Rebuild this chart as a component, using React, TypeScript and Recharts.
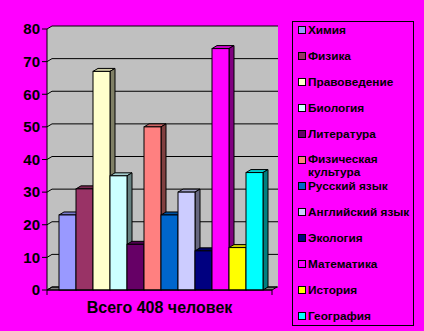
import { BarChart, Bar, XAxis, YAxis, CartesianGrid, Legend } from "recharts";

const subjects = [
  "Химия",
  "Физика",
  "Правоведение",
  "Биология",
  "Литература",
  "Физическая культура",
  "Русский язык",
  "Английский язык",
  "Экология",
  "Математика",
  "История",
  "География",
];
const counts = [23, 31, 67, 35, 14, 50, 23, 30, 12, 74, 13, 36];
const colors = [
  "#9999FF", "#993366", "#FFFFCC", "#CCFFFF", "#660066", "#FF8080",
  "#0066CC", "#CCCCFF", "#000080", "#FF00FF", "#FFFF00", "#00FFFF",
];
const yTicks = [0, 10, 20, 30, 40, 50, 60, 70, 80];
const category = "Всего 408 человек";

const data = [
  Object.fromEntries([["name", category], ...subjects.map((_, i) => [`s${i}`, counts[i]])]),
];

// plot box (front plane) and 3d depth
const PLOT_TOP = 29;
const PLOT_H = 261;
const BAND = 225;
const DX = 5;
const DY = 3;
const FONT = "'Liberation Sans', Arial, sans-serif";

function shade(hex: string, k: number) {
  const n = parseInt(hex.slice(1), 16);
  const r = Math.round(((n >> 16) & 255) * k);
  const g = Math.round(((n >> 8) & 255) * k);
  const b = Math.round((n & 255) * k);
  return `rgb(${r},${g},${b})`;
}

const Bar3D = (p: any) => {
  const { x, y, width: w, height: h, fill } = p;
  if (!h) return null;
  return (
    <g stroke="#000" strokeWidth={1}>
      <polygon
        points={`${x},${y} ${x + DX},${y - DY} ${x + w + DX},${y - DY} ${x + w},${y}`}
        fill={shade(fill, 0.8)}
      />
      <polygon
        points={`${x + w},${y} ${x + w + DX},${y - DY} ${x + w + DX},${y + h - DY} ${x + w},${y + h}`}
        fill={shade(fill, 0.5)}
      />
      <rect x={x} y={y} width={w} height={h} fill={fill} />
    </g>
  );
};

const GridLine = (p: any) => {
  const { x1, x2, y1 } = p;
  const isFloor = Math.abs(y1 - (PLOT_TOP + PLOT_H)) < 1;
  return (
    <g key={p.key}>
      {isFloor && (
        <>
          <polygon
            points={`${x1},${y1 - PLOT_H} ${x1 + DX},${y1 - PLOT_H - DY} ${x2 + DX + 1},${y1 - PLOT_H - DY} ${x2 + DX + 1},${y1 - DY} ${x2},${y1} ${x1},${y1}`}
            fill="#C0C0C0"
          />
          <polygon
            points={`${x1},${y1} ${x1 + DX},${y1 - DY} ${x2 + DX},${y1 - DY} ${x2},${y1}`}
            fill="#808080"
            stroke="#000"
          />
        </>
      )}
      <line x1={x1} y1={y1} x2={x1 + DX} y2={y1 - DY} stroke="#000" />
      <line x1={x1 + DX} y1={y1 - DY} x2={x2 + DX + 1} y2={y1 - DY} stroke="#000" />
    </g>
  );
};

const XTick = (p: any) => {
  const { x, y } = p;
  return (
    <g>
      <line x1={x - BAND / 2} y1={y - 8} x2={x - BAND / 2} y2={y - 3} stroke="#000" />
      <line x1={x + BAND / 2} y1={y - 8} x2={x + BAND / 2} y2={y - 3} stroke="#000" />
      <text x={x} y={y + 15} textAnchor="middle" fill="#000" fontSize={16} fontWeight={700} fontFamily={FONT}>
        {category}
      </text>
    </g>
  );
};

const LegendBox = () => (
  <div
    style={{
      width: 122,
      height: 305,
      border: "1px solid #000",
      boxSizing: "border-box",
      position: "relative",
      fontFamily: FONT,
    }}
  >
    {subjects.map((s, i) => {
      const wrapped = s.length > 16;
      return (
        <div
          key={s}
          style={{
            position: "absolute",
            left: 5,
            top: i * 26 + (wrapped ? 0.5 : 0),
            display: "flex",
            alignItems: "flex-start",
          }}
        >
          <span
            style={{
              width: 8,
              height: 8,
              marginTop: wrapped ? 3.5 : 4,
              marginRight: 2,
              boxSizing: "border-box",
              border: "1px solid #000",
              background: colors[i],
              flex: "none",
            }}
          />
          <span
            style={{
              fontSize: 11.8,
              fontWeight: 700,
              lineHeight: wrapped ? "13px" : "16px",
              width: 106,
              color: "#000",
            }}
          >
            {s}
          </span>
        </div>
      );
    })}
  </div>
);

export default function App() {
  return (
    <div style={{ position: "absolute", left: 0, top: 0, width: 424, height: 331, background: "#FF00FF", fontFamily: FONT }}>
      <BarChart
        width={424}
        height={331}
        data={data}
        margin={{ top: PLOT_TOP, right: 152, bottom: 11, left: 0 }}
        barCategoryGap={12}
        barGap={0}
      >
        <CartesianGrid vertical={false} horizontal={GridLine} />
        <XAxis
          dataKey="name"
          height={30}
          tickLine={false}
          axisLine={{ stroke: "#000" }}
          tick={XTick}
        />
        <YAxis
          width={47}
          domain={[0, 80]}
          ticks={yTicks}
          interval={0}
          tickSize={5}
          tickMargin={2}
          axisLine={{ stroke: "#000" }}
          tickLine={{ stroke: "#000" }}
          tick={{ fill: "#000", fontSize: 15, fontWeight: 700, fontFamily: FONT }}
        />
        <Legend
          layout="vertical"
          align="center"
          verticalAlign="middle"
          wrapperStyle={{ left: 292, top: 21, width: 122, height: 305 }}
          content={LegendBox}
        />
        {subjects.map((s, i) => (
          <Bar key={s} dataKey={`s${i}`} name={s} fill={colors[i]} shape={Bar3D} isAnimationActive={false} />
        ))}
      </BarChart>
    </div>
  );
}
